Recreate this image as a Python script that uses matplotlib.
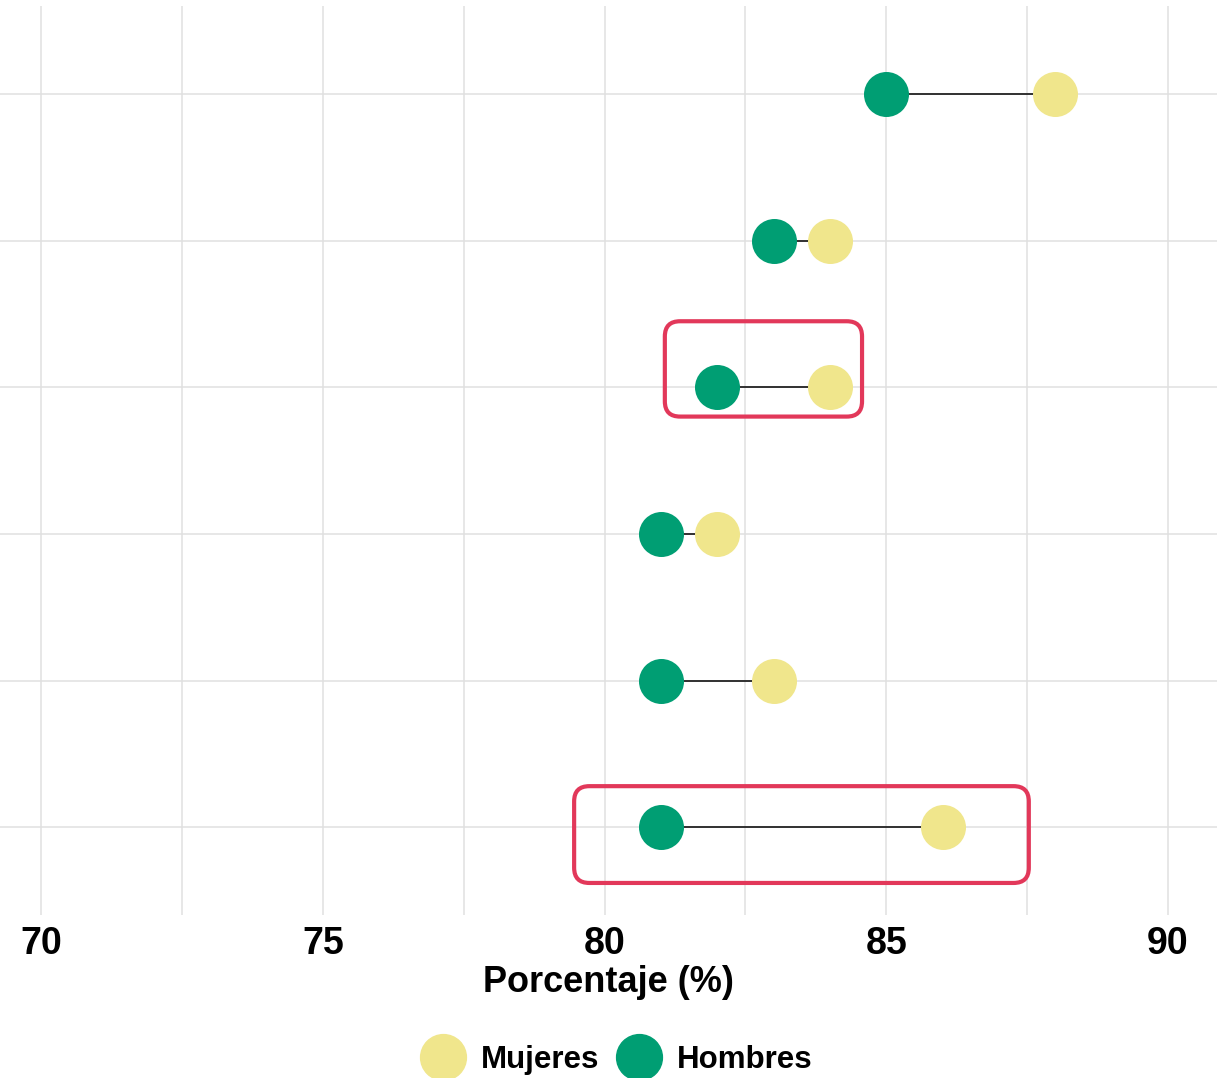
import matplotlib.pyplot as plt
from matplotlib.patches import FancyBboxPatch
from matplotlib.lines import Line2D

# datos (de arriba a abajo)
grupos = ['G1', 'G2', 'G3', 'G4', 'G5', 'G6']
hombres = [85, 83, 82, 81, 81, 81]
mujeres = [88, 84, 84, 82, 83, 86]
x_ticks = [70, 75, 80, 85, 90]

# recuadros resaltados: (grupo, x_min, x_max, arriba, abajo)
resaltados = [('G3', 81.07, 84.57, 0.45, 0.20),
              ('G6', 79.46, 87.53, 0.28, 0.38)]

col_h = '#009E73'
col_m = '#F0E68C'
col_rojo = '#E2385A'

plt.rcParams['font.family'] = ['Liberation Sans', 'DejaVu Sans']

fig = plt.figure(figsize=(12.17, 10.78), dpi=100)
ax = fig.add_axes([0, 0.151, 1, 0.8435])

n = len(grupos)
ypos = [n - i for i in range(n)]  # grupo de arriba en y mas alto
pos = dict(zip(grupos, ypos))

for y, h, m in zip(ypos, hombres, mujeres):
    ax.plot([h, m], [y, y], color='black', lw=1.1, zorder=2)
ax.scatter(mujeres, ypos, s=1050, color=col_m, zorder=3, linewidths=0)
ax.scatter(hombres, ypos, s=1050, color=col_h, zorder=4, linewidths=0)

for g, x0, x1, arr, ab in resaltados:
    y = pos[g]
    caja = FancyBboxPatch((x0, y - ab), x1 - x0, arr + ab,
                          boxstyle='round,pad=0,rounding_size=0.27',
                          mutation_aspect=0.384,
                          fill=False, ec=col_rojo, lw=3, zorder=5)
    ax.add_patch(caja)

ax.set_xlim(69.27, 90.87)
ax.set_ylim(0.4, 6.6)
ax.set_xticks(x_ticks)
ax.set_xticks([72.5, 77.5, 82.5, 87.5], minor=True)
ax.set_yticks(ypos)
ax.set_yticklabels([])
ax.grid(True, which='both', axis='x', color='#E0E0E0', lw=1.1, zorder=0)
ax.grid(True, which='major', axis='y', color='#E0E0E0', lw=1.1, zorder=0)
ax.set_axisbelow(True)
for s in ax.spines.values():
    s.set_visible(False)
ax.tick_params(which='both', length=0)
ax.tick_params(axis='x', labelsize=27, pad=8)
for t in ax.get_xticklabels():
    t.set_fontweight('bold')
ax.set_xlabel('Porcentaje (%)', fontsize=26, fontweight='bold', labelpad=2)

handles = [Line2D([], [], marker='o', ls='', color=col_m, markersize=33, label='Mujeres'),
           Line2D([], [], marker='o', ls='', color=col_h, markersize=33, label='Hombres')]
fig.legend(handles=handles, loc='lower center', bbox_to_anchor=(0.503, -0.023), ncol=2,
           frameon=False, prop={'weight': 'bold', 'size': 22.5},
           handletextpad=0.2, columnspacing=0.3)

fig.savefig('out.png', dpi=100)
